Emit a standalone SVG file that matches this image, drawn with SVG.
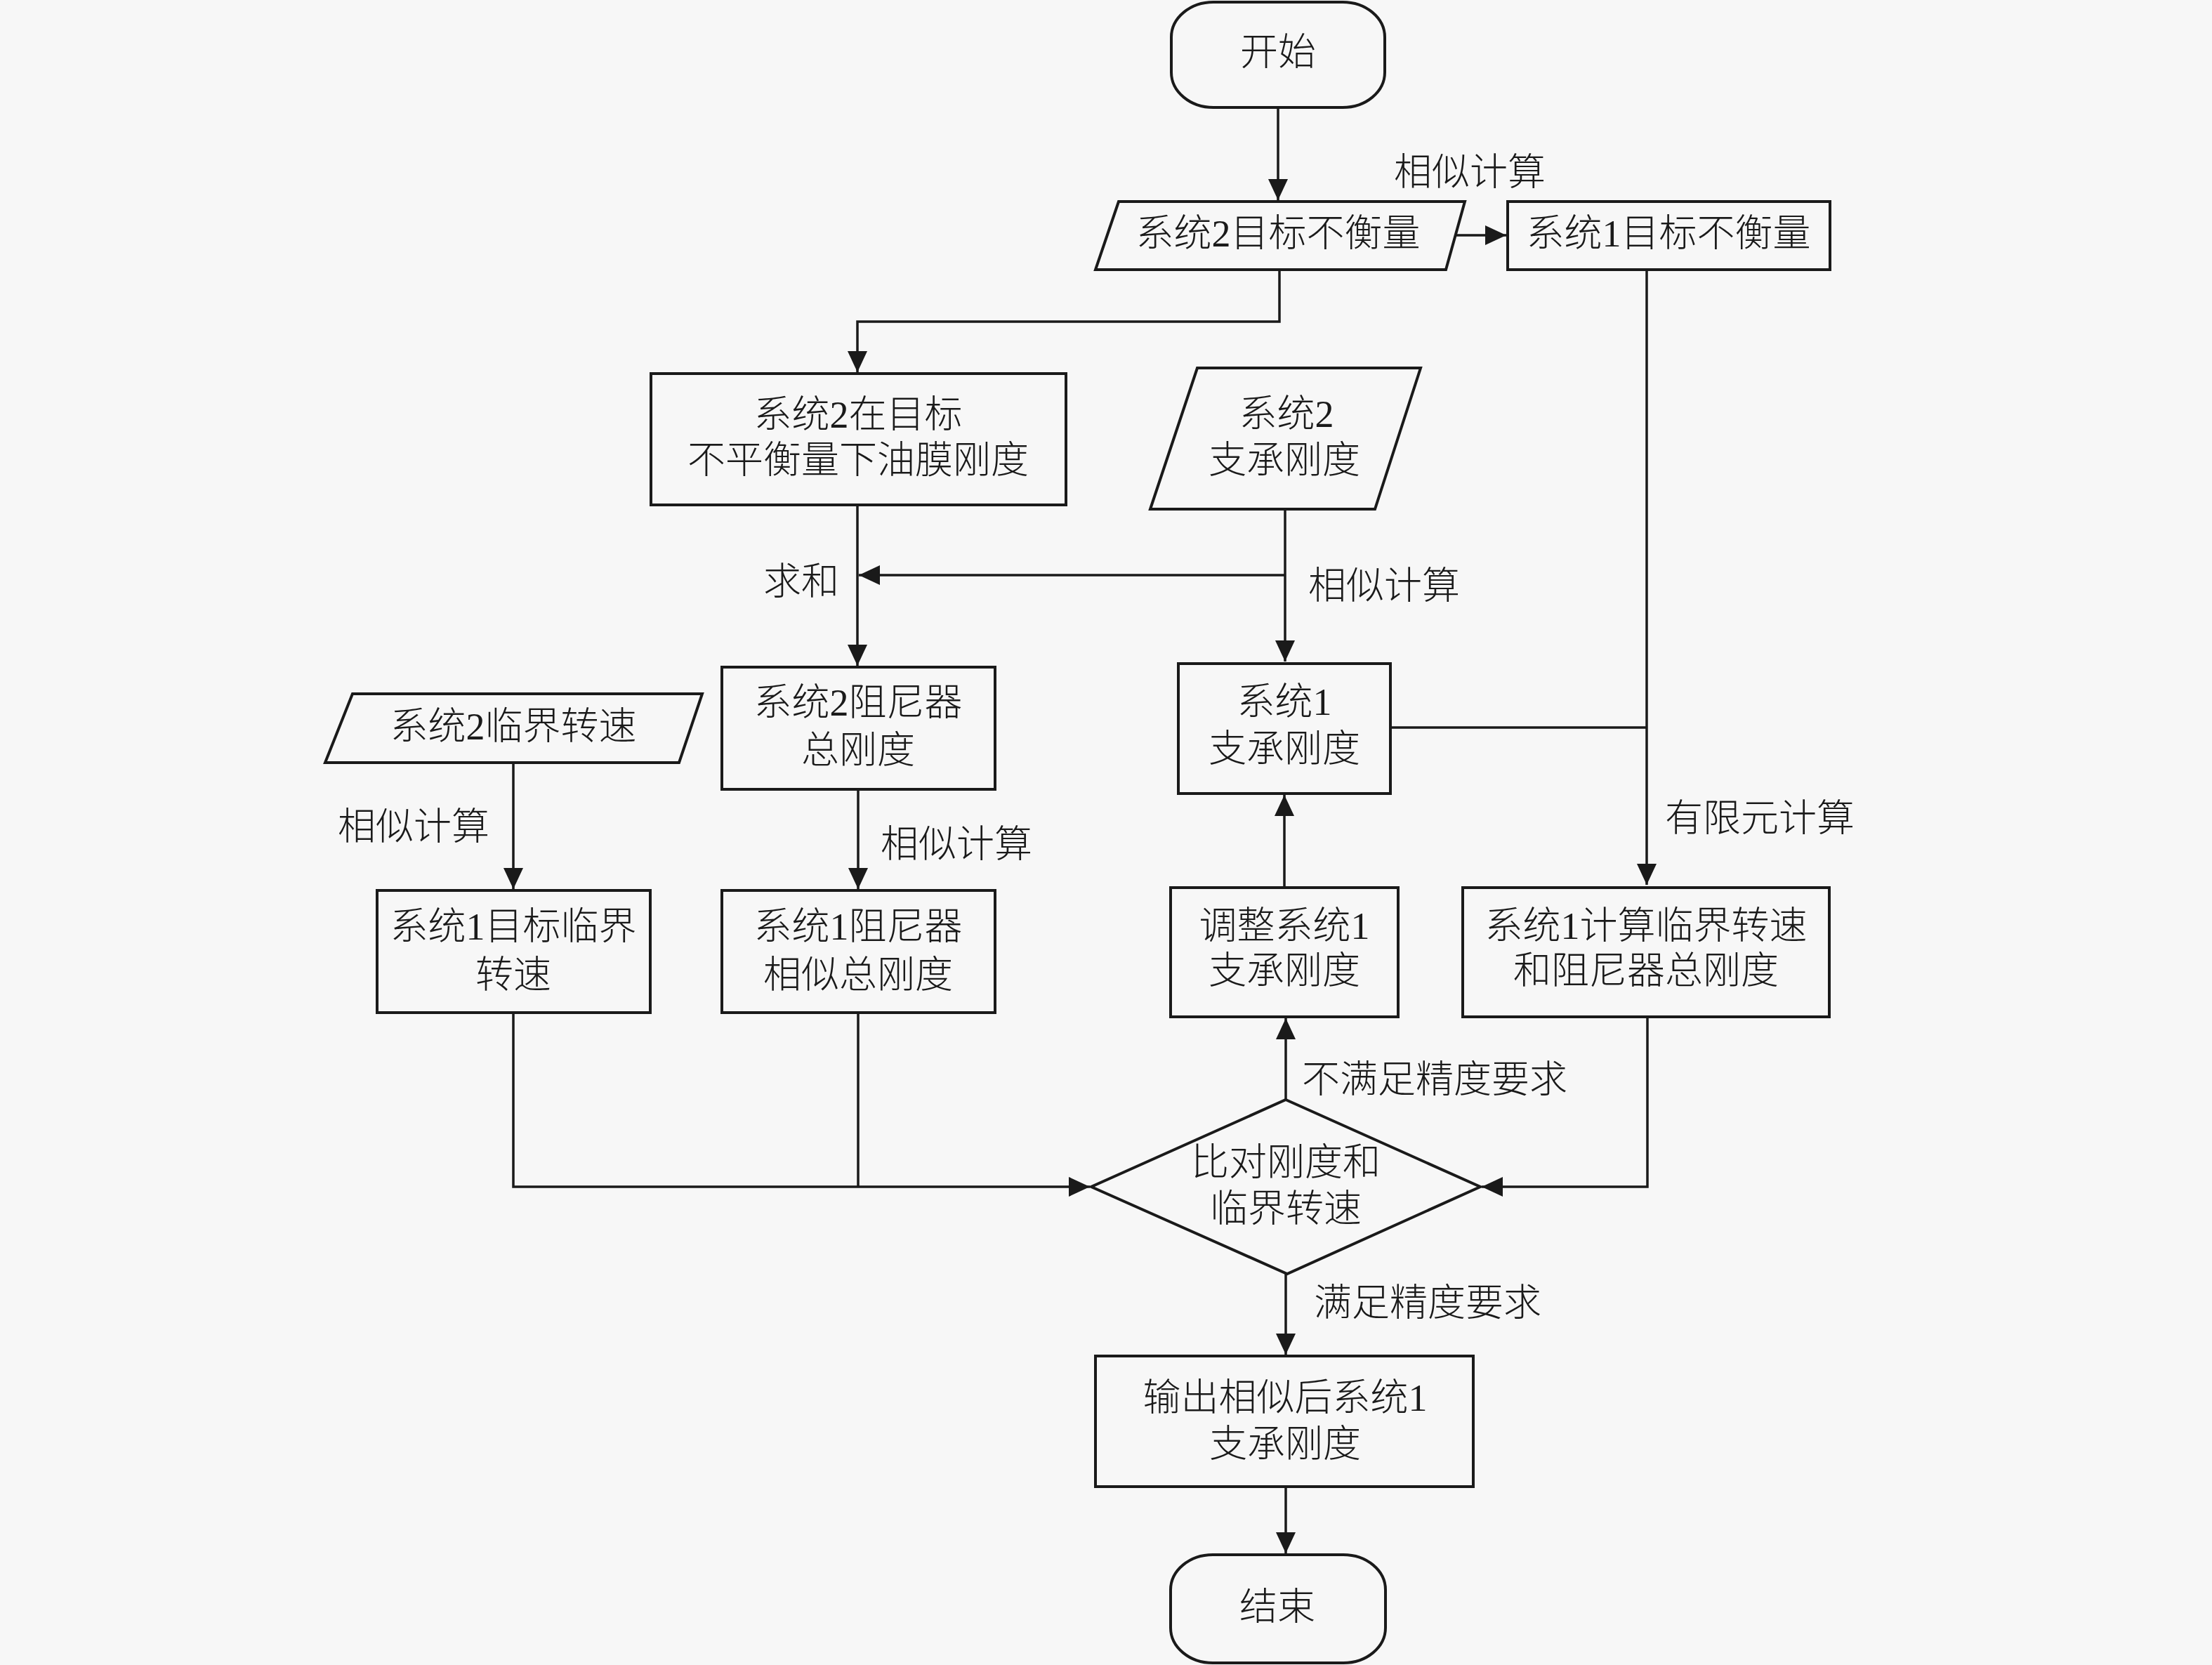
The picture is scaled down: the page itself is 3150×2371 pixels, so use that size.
<svg xmlns="http://www.w3.org/2000/svg" width="3150" height="2371" viewBox="0 0 3150 2371">
<style>
.n{fill:none;stroke:#1a1a1a;stroke-width:4}
.c{fill:none;stroke:#1a1a1a;stroke-width:3.5}
text{font-family:"Liberation Serif","Noto Sans CJK SC",serif;font-size:54px;fill:#1a1a1a;font-weight:300}
.m{text-anchor:middle}
</style>
<defs>
<marker id="a" markerUnits="userSpaceOnUse" markerWidth="32" markerHeight="30" refX="30" refY="14" orient="auto">
<path d="M0,0 L30,14 L0,28 Z" fill="#1a1a1a"/>
</marker>
</defs>
<rect x="0" y="0" width="3150" height="2371" fill="#f7f7f7"/>

<g id="connectors">
<path class="c" d="M1820,153 V285" marker-end="url(#a)"/>
<path class="c" d="M2072,335 H2145" marker-end="url(#a)"/>
<path class="c" d="M1822,384 V458 H1221 V530" marker-end="url(#a)"/>
<path class="c" d="M1830,725 V942" marker-end="url(#a)"/>
<path class="c" d="M1830,819 H1223" marker-end="url(#a)"/>
<path class="c" d="M1221,719 V948" marker-end="url(#a)"/>
<path class="c" d="M1222,1124 V1266" marker-end="url(#a)"/>
<path class="c" d="M731,1086 V1266" marker-end="url(#a)"/>
<path class="c" d="M2345,384 V1260" marker-end="url(#a)"/>
<path class="c" d="M1980,1036 H2345"/>
<path class="c" d="M1829,1264 V1132" marker-end="url(#a)"/>
<path class="c" d="M1831,1566 V1450" marker-end="url(#a)"/>
<path class="c" d="M2346,1448 V1690 H2110" marker-end="url(#a)"/>
<path class="c" d="M731,1442 V1690 H1552" marker-end="url(#a)"/>
<path class="c" d="M1222,1442 V1690"/>
<path class="c" d="M1831,1814 V1929" marker-end="url(#a)"/>
<path class="c" d="M1831,2117 V2212" marker-end="url(#a)"/>
</g>

<g id="labels">
<text x="1985" y="264">相似计算</text>
<text x="1195" y="847" text-anchor="end">求和</text>
<text x="1863" y="853">相似计算</text>
<text x="481" y="1196">相似计算</text>
<text x="1254" y="1221">相似计算</text>
<text x="2371" y="1184">有限元计算</text>
<text x="1854" y="1556">不满足精度要求</text>
<text x="1871" y="1874">满足精度要求</text>
</g>

<g id="start">
<rect class="n" x="1668" y="3" width="304" height="150" rx="60" ry="50"/>
<text class="m" x="1820" y="93">开始</text>
</g>

<g id="sys2-target-unbalance">
<polygon class="n" points="1593,287 2086,287 2059,384 1560,384"/>
<text class="m" x="1820" y="351">系统2目标不衡量</text>
</g>

<g id="sys1-target-unbalance">
<rect class="n" x="2147" y="287" width="459" height="97"/>
<text class="m" x="2376" y="351">系统1目标不衡量</text>
</g>

<g id="sys2-oilfilm">
<rect class="n" x="927" y="532" width="591" height="187"/>
<text class="m" x="1222" y="609">系统2在目标</text>
<text class="m" x="1222" y="674">不平衡量下油膜刚度</text>
</g>

<g id="sys2-support">
<polygon class="n" points="1705,524 2023,524 1958,725 1638,725"/>
<text class="m" x="1832" y="608">系统2</text>
<text class="m" x="1829" y="674">支承刚度</text>
</g>

<g id="sys2-damper">
<rect class="n" x="1028" y="950" width="389" height="174"/>
<text class="m" x="1222" y="1019">系统2阻尼器</text>
<text class="m" x="1222" y="1087">总刚度</text>
</g>

<g id="sys1-support">
<rect class="n" x="1678" y="945" width="302" height="185"/>
<text class="m" x="1829" y="1018">系统1</text>
<text class="m" x="1829" y="1085">支承刚度</text>
</g>

<g id="sys2-critical">
<polygon class="n" points="502,988 1000,988 967,1086 463,1086"/>
<text class="m" x="731" y="1053">系统2临界转速</text>
</g>

<g id="sys1-target-critical">
<rect class="n" x="537" y="1268" width="389" height="174"/>
<text class="m" x="731" y="1338">系统1目标临界</text>
<text class="m" x="731" y="1407">转速</text>
</g>

<g id="sys1-damper">
<rect class="n" x="1028" y="1268" width="389" height="174"/>
<text class="m" x="1222" y="1338">系统1阻尼器</text>
<text class="m" x="1222" y="1407">相似总刚度</text>
</g>

<g id="adjust-sys1">
<rect class="n" x="1667" y="1264" width="324" height="184"/>
<text class="m" x="1829" y="1337">调整系统1</text>
<text class="m" x="1829" y="1401">支承刚度</text>
</g>

<g id="sys1-fem">
<rect class="n" x="2083" y="1264" width="522" height="184"/>
<text class="m" x="2344" y="1337">系统1计算临界转速</text>
<text class="m" x="2344" y="1401">和阻尼器总刚度</text>
</g>

<g id="compare">
<polygon class="n" points="1831,1566 2108,1690 1833,1814 1554,1690"/>
<text class="m" x="1831" y="1674">比对刚度和</text>
<text class="m" x="1831" y="1740">临界转速</text>
</g>

<g id="output">
<rect class="n" x="1560" y="1931" width="538" height="186"/>
<text class="m" x="1830" y="2009">输出相似后系统1</text>
<text class="m" x="1830" y="2075">支承刚度</text>
</g>

<g id="end">
<rect class="n" x="1667" y="2214" width="306" height="154" rx="60" ry="50"/>
<text class="m" x="1819" y="2307">结束</text>
</g>
</svg>
